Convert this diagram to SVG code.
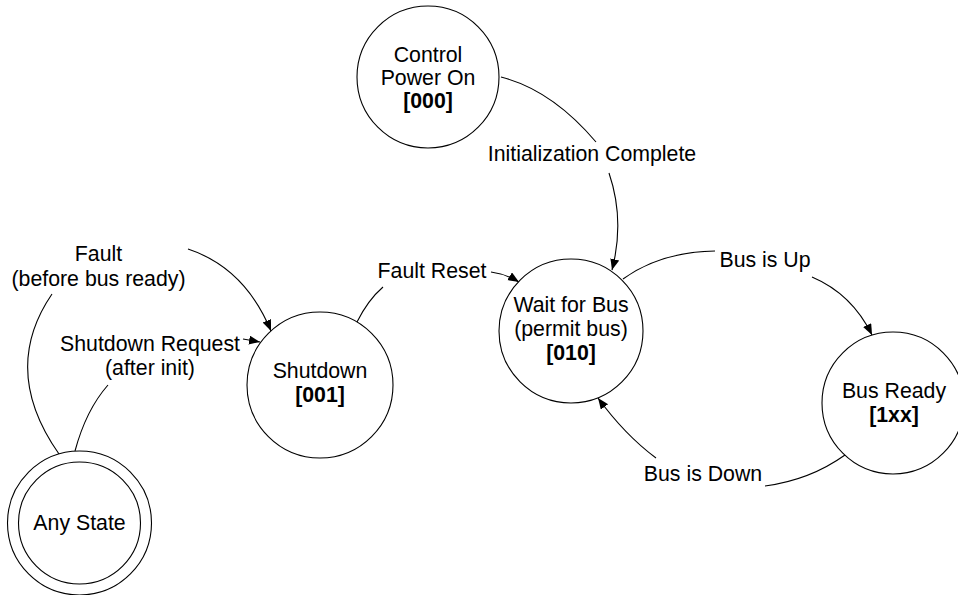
<svg xmlns="http://www.w3.org/2000/svg" width="958" height="595" viewBox="0 0 958 595">
<style>
text{font-family:"Liberation Sans",Arial,sans-serif;font-size:21.3px;fill:#000;text-anchor:middle}
.b{font-weight:bold}
.st{fill:#fff;stroke:#000;stroke-width:1.1}
.c{fill:none;stroke:#000;stroke-width:1.1}
.a{marker-end:url(#arr)}
</style>
<defs>
<marker id="arr" markerWidth="13" markerHeight="10" refX="11" refY="4.5" orient="auto" markerUnits="userSpaceOnUse"><path d="M0,0 L11,4.5 L0,9 z" fill="#000"/></marker>
</defs>
<rect width="958" height="595" fill="#fff"/>
<g id="connectors">
<path class="c" d="M501,77 Q552,90 596,142"/>
<path class="c a" d="M609,173 Q625,220 612,270"/>
<path class="c" d="M357,322 Q368,300 383,287"/>
<path class="c a" d="M491,272 Q506,274 519,282"/>
<path class="c" d="M623,279 Q660,252 715,251"/>
<path class="c a" d="M812,277 Q852,294 872,335"/>
<path class="c" d="M845,455 Q810,480 765,486"/>
<path class="c a" d="M656,458 Q625,435 598,398"/>
<path class="c a" d="M188,249 Q245,268 271,331"/>
<path class="c" d="M52,294 Q0,370 59,454"/>
<path class="c a" d="M243,339 L260,342"/>
<path class="c" d="M108,385 Q86,410 75,451"/>
</g>
<g id="labels">
<text x="592" y="161">Initialization Complete</text>
<text x="432" y="278">Fault Reset</text>
<text x="765" y="267">Bus is Up</text>
<text x="703" y="481">Bus is Down</text>
<text x="98.5" y="261">Fault</text>
<text x="98.5" y="286">(before bus ready)</text>
<text x="150" y="351">Shutdown Request</text>
<text x="150" y="375">(after init)</text>
</g>
<g id="control-power-on">
<circle class="st" cx="428" cy="77" r="71"/>
<text x="428" y="62">Control</text>
<text x="428" y="85">Power On</text>
<text class="b" x="428" y="108">[000]</text>
</g>
<g id="wait-for-bus">
<circle class="st" cx="571" cy="331" r="72"/>
<text x="571" y="312">Wait for Bus</text>
<text x="571" y="336">(permit bus)</text>
<text class="b" x="571" y="360">[010]</text>
</g>
<g id="bus-ready">
<circle class="st" cx="893" cy="403" r="71"/>
<text x="894" y="398">Bus Ready</text>
<text class="b" x="894" y="422">[1xx]</text>
</g>
<g id="shutdown">
<circle class="st" cx="320" cy="385" r="73"/>
<text x="320" y="378">Shutdown</text>
<text class="b" x="320" y="402">[001]</text>
</g>
<g id="any-state">
<circle class="st" cx="79.5" cy="523" r="72"/>
<circle class="st" cx="79.5" cy="523" r="61"/>
<text x="79.5" y="530">Any State</text>
</g>
</svg>
